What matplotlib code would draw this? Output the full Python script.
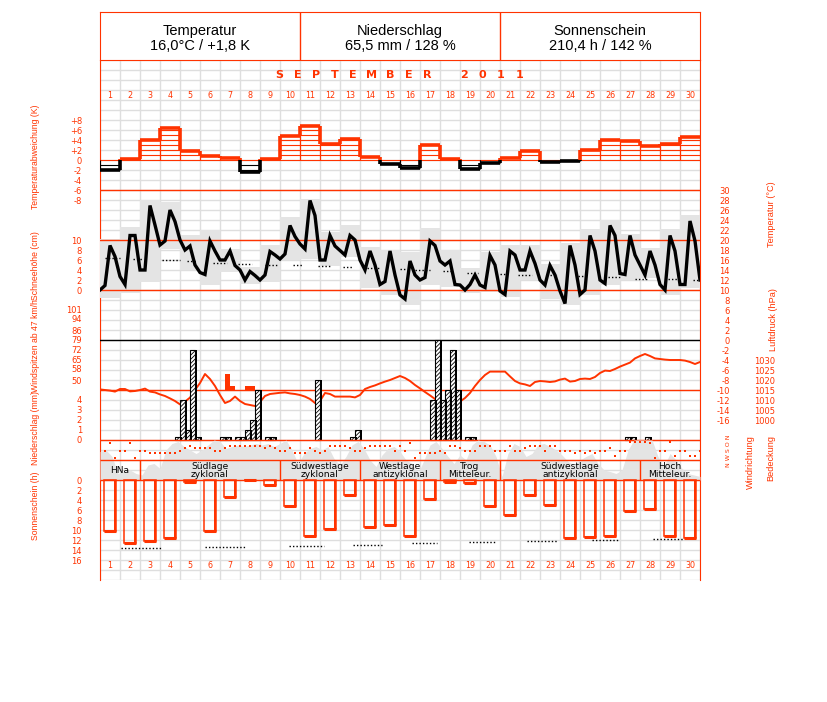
import numpy as np
import matplotlib
matplotlib.use("Agg")
import matplotlib.pyplot as plt
from matplotlib import font_manager

RED = "#ff3300"
GRID = "#dedede"
SHADE = "#e4e4e4"

names = {f.name for f in font_manager.fontManager.ttflist}
NARROW = "Liberation Sans Narrow" if "Liberation Sans Narrow" in names else "Liberation Sans"
plt.rcParams["font.family"] = ["DejaVu Sans"]
plt.rcParams["hatch.linewidth"] = 0.6

# ---------------- data ----------------
days = np.arange(1, 31)
header_titles = ["Temperatur", "Niederschlag", "Sonnenschein"]
header_values = ["16,0°C / +1,8 K", "65,5 mm / 128 %", "210,4 h / 142 %"]
month_title = "SEPTEMBER 2011"

# daily temperature deviation (K)
temp_dev = [-1.9, 0.3, 4.0, 6.5, 1.8, 0.9, 0.5, -2.3, 0.3, 4.8,
            6.9, 3.3, 4.2, 0.7, -0.7, -1.5, 3.0, 0.3, -1.7, -0.5,
            0.5, 1.9, -0.3, -0.2, 2.0, 4.0, 3.8, 2.8, 3.3, 4.7]

# 6-hourly temperature (°C), 1 Sep 00h .. 1 Oct 00h
temp_6h = [10.0, 10.9, 18.9, 16.7, 12.7, 11.1, 20.9, 20.9, 14.0, 14.0, 26.9, 23.0,
           19.0, 19.8, 26.0, 23.7, 20.0, 18.0, 18.8, 15.0, 13.5, 13.1, 19.8, 17.8,
           16.0, 16.0, 17.8, 14.9, 14.0, 12.0, 13.7, 12.9, 12.0, 13.0, 17.7, 17.0,
           16.2, 17.2, 22.9, 20.7, 19.2, 18.2, 27.9, 24.9, 16.0, 16.0, 20.9, 18.8,
           17.9, 17.0, 20.9, 20.0, 16.0, 14.0, 17.8, 15.0, 11.1, 11.7, 17.8, 13.0,
           9.0, 8.2, 15.8, 13.0, 12.0, 12.5, 19.8, 18.9, 15.8, 15.0, 15.8, 11.1,
           11.0, 10.0, 11.1, 13.0, 11.0, 10.5, 16.9, 15.0, 9.8, 9.1, 17.8, 17.0,
           14.0, 14.0, 17.8, 15.3, 12.0, 11.0, 14.9, 13.0, 9.8, 7.3, 18.9, 15.0,
           9.1, 10.0, 20.9, 17.8, 12.0, 11.3, 22.9, 20.9, 13.3, 13.1, 20.9, 17.0,
           15.0, 13.0, 17.8, 15.0, 11.1, 10.0, 20.9, 17.8, 11.1, 11.1, 23.8, 19.8,
           12.0]

# daily extreme range (grey boxes)
temp_min = [8.5, 9.5, 11.7, 18.3, 14.0, 11.0, 13.7, 11.3, 11.7, 16.0,
            16.3, 14.9, 16.7, 10.5, 9.1, 7.0, 11.0, 10.7, 9.5, 9.7,
            8.7, 12.0, 8.3, 7.0, 9.0, 11.0, 12.0, 12.5, 9.0, 10.5]
temp_max = [20.3, 22.7, 28.0, 27.7, 21.0, 22.0, 18.3, 14.7, 19.0, 24.7,
            28.3, 21.7, 23.0, 18.7, 18.0, 17.7, 22.5, 18.0, 14.5, 17.7,
            19.0, 19.0, 15.3, 19.5, 22.3, 24.0, 21.3, 18.5, 22.3, 25.1]

# climatological mean temperature (dotted pieces: from day, to day, °C)
clim_t_from = [0.75, 2.15, 3.6, 4.85, 6.15, 7.4, 8.75, 10.15, 11.4, 12.65, 13.85, 15.5,
               16.25, 17.65, 18.85, 20.5, 21.4, 23.0, 24.4, 25.9, 27.25, 28.9, 30.15]
clim_t_to = [1.5, 2.65, 4.5, 5.35, 6.85, 8.1, 9.35, 10.65, 12.0, 13.15, 14.5, 15.75,
             17.0, 18.1, 19.4, 20.85, 22.1, 23.35, 24.9, 26.5, 27.9, 29.5, 30.5]
clim_t = [16.5, 16.2, 16.0, 15.8, 15.5, 15.3, 15.1, 15.0, 14.8, 14.6, 14.4, 14.2,
          14.0, 13.8, 13.5, 13.3, 13.1, 13.0, 12.8, 12.6, 12.3, 12.2, 12.0]

# 6-hourly precipitation (day, quarter of day, mm)
prec_day = [4, 5, 5, 5, 5, 7, 7, 7, 8, 8, 8, 8, 9, 9, 11, 13, 13,
            17, 17, 18, 18, 18, 18, 19, 19, 27, 27, 28]
prec_slot = [3, 0, 1, 2, 3, 0, 1, 3, 0, 1, 2, 3, 1, 2, 3, 2, 3,
             2, 3, 0, 1, 2, 3, 1, 2, 1, 2, 1]
prec_mm = [0.3, 4.0, 1.0, 9.0, 0.3, 0.3, 0.3, 0.3, 0.3, 1.0, 2.0, 5.0, 0.3, 0.3, 6.0, 0.3, 1.0,
           4.0, 10.0, 4.0, 5.0, 9.0, 5.0, 0.3, 0.3, 0.3, 0.3, 0.3]

# wind gusts above threshold (day, quarter, km/h)
gust_day = [7, 7, 8, 8]
gust_slot = [1, 2, 1, 2]
gust_kmh = [54, 46, 46, 46]

# 6-hourly pressure (hPa)
pressure_6h = [
    1015.3, 1015.0, 1014.7, 1014.2, 1015.5, 1015.5, 1014.3, 1014.5, 1015.0, 1015.7,
    1014.2, 1013.8, 1012.8, 1012.0, 1010.8, 1009.5, 1007.8, 1009.2, 1011.2, 1015.0,
    1018.5, 1023.0, 1020.5, 1017.0, 1012.5, 1008.5, 1009.5, 1011.7, 1009.5, 1008.0,
    1007.5, 1007.0, 1009.0, 1012.0, 1013.0, 1013.3, 1013.6, 1013.8, 1013.3, 1013.0,
    1012.5, 1011.7, 1010.5, 1008.5, 1009.5, 1013.5, 1013.0, 1011.7, 1011.7, 1011.7,
    1011.7, 1011.3, 1012.5, 1015.5, 1016.5, 1017.3, 1018.3, 1019.2, 1020.0, 1021.0,
    1022.0, 1021.0, 1019.5, 1017.5, 1015.8, 1014.0, 1012.3, 1010.5, 1008.7, 1005.5,
    1004.0, 1006.5, 1009.2, 1011.0, 1013.5, 1017.0, 1020.0, 1022.5, 1024.2, 1024.2,
    1024.2, 1024.2, 1021.8, 1019.5, 1018.3, 1017.8, 1017.0, 1019.0, 1019.5, 1019.3,
    1019.0, 1019.3, 1020.2, 1020.7, 1019.2, 1019.5, 1020.5, 1020.7, 1020.5, 1021.5,
    1023.5, 1024.7, 1024.5, 1025.5, 1026.7, 1027.7, 1028.7, 1030.8, 1032.0, 1033.0,
    1032.0, 1030.8, 1030.5, 1030.2, 1030.0, 1030.0, 1030.0, 1029.7, 1029.0, 1028.0,
    1029.0]

# 6-hourly wind direction (degrees)
wind_dir_6h = [
    180, 180, 30, 300, 180, 180, 30, 300, 180, 180, 210, 210, 210, 210, 210,
    210, 180, 120, 90, 120, 120, 120, 120, 180, 180, 120, 90, 90, 90, 90,
    90, 90, 90, 120, 90, 120, 180, 180, 120, 210, 210, 210, 120, 180, 210,
    180, 90, 90, 90, 90, 120, 180, 180, 120, 90, 90, 90, 90, 90, 180, 90,
    180, 30, 300, 210, 210, 210, 210, 180, 210, 90, 90, 120, 180, 180, 180,
    90, 90, 90, 180, 180, 180, 90, 180, 180, 120, 90, 90, 90, 180, 90,
    90, 180, 180, 180, 210, 180, 210, 180, 210, 180, 180, 120, 270, 180, 180,
    20, 20, 20, 20, 30, 300, 180, 180, 20, 270, 180, 180, 270, 270, 180]

# cloud cover (octas), evenly spread over the month
cloud_octas = [5.7, 6.0, 4.7, 1.3, 1.7, 2.0, 1.3, 1.0, 3.0, 3.3, 2.3, 6.0, 7.3, 7.7, 6.7,
               6.0, 5.3, 6.0, 7.0, 8.0, 7.7, 6.3, 6.7, 7.0, 6.7, 7.0, 7.3, 7.0, 7.3, 6.7,
               7.3, 8.0, 6.0, 3.3, 5.3, 6.3, 6.7, 6.0, 6.7, 4.3, 3.0, 4.7, 7.0, 7.7, 6.3,
               4.0, 2.7, 5.0, 6.3, 6.7, 5.7, 4.0, 3.3, 1.3, 4.0, 7.0, 7.7, 6.3, 4.7, 3.3,
               5.0, 4.0, 7.0, 8.0, 7.7, 7.0, 4.7, 0.7, 5.3, 7.3, 6.7, 4.7, 5.3, 7.0, 7.3,
               6.7, 6.0, 5.0, 3.7, 3.0, 4.0, 4.7, 5.3, 3.3, 2.0, 1.7, 1.3, 2.0, 6.0, 8.0,
               8.0, 8.0, 8.0, 4.7, 2.7, 5.3, 4.0, 2.3, 1.3, 1.0, 0.7]

# Grosswetterlagen
wt_first = [1, 3, 10, 14, 18, 21, 28]
wt_last = [2, 9, 13, 17, 20, 27, 30]
wt_names = ["HNa", "Südlage\nzyklonal", "Südwestlage\nzyklonal", "Westlage\nantizyklonal",
            "Trog\nMitteleur.", "Südwestlage\nantizyklonal", "Hoch\nMitteleur."]

# sunshine (h)
sun_hours = [10.2, 12.5, 12.2, 11.5, 0.3, 10.1, 3.3, 0.0, 1.0, 5.1,
             11.2, 9.8, 3.0, 9.4, 9.0, 11.1, 3.7, 0.3, 0.5, 5.2,
             7.0, 3.0, 5.0, 11.5, 11.3, 11.2, 6.1, 5.8, 11.1, 11.5]
sun_clim_from = [1.55, 5.75, 9.95, 13.15, 16.1, 18.95, 21.85, 25.1, 28.15]
sun_clim_to = [3.6, 7.8, 11.7, 14.6, 17.35, 20.3, 23.35, 26.45, 29.65]
sun_clim = [13.5, 13.3, 13.1, 12.9, 12.6, 12.4, 12.2, 12.0, 11.8]

dev_ticks = [8, 6, 4, 2, 0, -2, -4, -6, -8]
dev_labels = ["+8", "+6", "+4", "+2", "0", "-2", "-4", "-6", "-8"]
snow_ticks = [0, 2, 4, 6, 8, 10]
gust_ticks = [50, 58, 65, 72, 79, 86, 94, 101]
prec_ticks = [0, 1, 2, 3, 4]
sun_ticks = [0, 2, 4, 6, 8, 10, 12, 14, 16]
temp_ticks = list(range(-16, 31, 2))
pres_ticks = [1000, 1005, 1010, 1015, 1020, 1025, 1030]

# ---------------- figure ----------------
W, H = 827, 702
fig = plt.figure(figsize=(W / 100, H / 100), dpi=100)


def frac(x0, y0, x1, y1):
    return [x0 / W, 1 - y1 / H, (x1 - x0) / W, (y1 - y0) / H]


PLOT = frac(100, 60, 700, 580)


def layer(v0, y0, s):
    # transparent axes over the plot area: value v0 sits on pixel row y0, s px per unit
    ax = fig.add_axes(PLOT)
    ax.set_xlim(0.5, 30.5)
    ax.set_ylim(v0 - (580 - y0) / s, v0 + (y0 - 60) / s)
    ax.patch.set_visible(False)
    for sp in ax.spines.values():
        sp.set_visible(False)
    ax.set_xticks([])
    ax.set_yticks([])
    ax.tick_params(length=0, labelsize=6, labelcolor=RED)
    return ax


def left_ticks(ax, ticks, labels=None):
    ax.set_yticks(ticks)
    ax.set_yticklabels(labels if labels else [str(t) for t in ticks])
    ax.tick_params(axis="y", pad=13)


def right_ticks(ax, ticks, pad_px):
    ax.yaxis.tick_right()
    ax.set_yticks(ticks)
    ax.set_yticklabels([str(t) for t in ticks], ha="right")
    ax.tick_params(axis="y", pad=pad_px * 0.72)


# background grid (pixel rows)
base = layer(580, 580, -1)
base.set_yticks(np.arange(60, 581, 10))
base.set_xticks(np.arange(0.5, 30.6, 1))
base.tick_params(labelleft=False, labelbottom=False)
base.grid(True, color=GRID, lw=1)
for side in ("left", "right"):
    base.spines[side].set_visible(True)
    base.spines[side].set_color(RED)

# header
hdr = fig.add_axes(frac(100, 12, 700, 60))
hdr.set_xlim(0, 3)
hdr.set_ylim(0, 1)
hdr.set_xticks([])
hdr.set_yticks([])
for sp in hdr.spines.values():
    sp.set_color(RED)
hdr.axvline(1, color=RED, lw=1)
hdr.axvline(2, color=RED, lw=1)
for i, (t, v) in enumerate(zip(header_titles, header_values)):
    hdr.text(i + 0.5, 0.44, t + "\n" + v, ha="center", va="center",
             fontsize=10.5, family=NARROW, linespacing=1.1)

# temperature deviation
ax_dev = layer(0, 160, 5)
left_ticks(ax_dev, dev_ticks, dev_labels)
ax_dev.axhline(0, color=RED, lw=0.8)
for d, v in zip(days, temp_dev):
    c = RED if v >= 0 else "black"
    ax_dev.vlines([d - 0.5, d + 0.5], 0, v, color=c, lw=0.8)
    levels = np.arange(1, int(abs(v)) + 1) * np.sign(v)
    ax_dev.hlines(levels, d - 0.5, d + 0.5, color=c, lw=0.8)
    ax_dev.hlines(v, d - 0.5, d + 0.5, color=c, lw=2.6)
for i in range(len(days) - 1):
    x = days[i] + 0.5
    lo, hi = sorted((temp_dev[i], temp_dev[i + 1]))
    if hi > 0:
        ax_dev.vlines(x, max(lo, 0), hi, color=RED, lw=2.6)
    if lo < 0:
        ax_dev.vlines(x, lo, min(hi, 0), color="black", lw=2.6)

# temperature
t6 = 0.5 + np.arange(len(temp_6h)) / 4
ax_t = layer(10, 290, 5)
right_ticks(ax_t, temp_ticks, 30)
ax_t.bar(days, np.subtract(temp_max, temp_min), bottom=temp_min, width=1,
         color=SHADE, lw=0, zorder=1)
for lvl in (10, 20, 30):
    ax_t.axhline(lvl, color=RED, lw=1, zorder=2)
ax_t.hlines(clim_t, clim_t_from, clim_t_to, color="black", lw=1,
            linestyles=(0, (1, 1.5)), zorder=3)
ax_t.plot(t6, temp_6h, color="black", lw=2.4, zorder=4, solid_joinstyle="miter")

ax_snow = layer(0, 290, 5)
left_ticks(ax_snow, snow_ticks)

# wind gusts
ax_g = layer(50, 380, 1 / 0.72)
left_ticks(ax_g, gust_ticks)
gx = np.array(gust_day) - 0.375 + 0.25 * np.array(gust_slot)
ax_g.bar(gx, np.array(gust_kmh) - 43, bottom=43, width=0.25, color=RED, lw=0)

# pressure
ax_pr = layer(1000, 420, 2)
right_ticks(ax_pr, pres_ticks, 75)
ax_pr.axhline(1015, color=RED, lw=1)
ax_pr.plot(0.5 + np.arange(len(pressure_6h)) / 4, pressure_6h, color=RED, lw=1.4)

# precipitation
ax_p = layer(0, 440, 10)
left_ticks(ax_p, prec_ticks)
ax_p.axhline(10, color="black", lw=1)
px = np.array(prec_day) - 0.375 + 0.25 * np.array(prec_slot)
ax_p.bar(px, prec_mm, width=0.25, facecolor="white", edgecolor="black",
         hatch="////////", lw=0.8, zorder=3)
ax_p.bar(px + 0.125 + 0.04, prec_mm, width=0.08, color="black", lw=0, zorder=3)
ax_p.axhline(0, color=RED, lw=1, zorder=4)

# cloud cover
ax_c = layer(0, 480, 5)
ax_c.fill_between(np.linspace(0.5, 30.5, len(cloud_octas)), 0, cloud_octas,
                  color=SHADE, lw=0)

# wind direction
ax_wd = layer(0, 441, -1 / 18)
ax_wd.plot(0.5 + np.arange(len(wind_dir_6h)) / 4, wind_dir_6h, "s",
           color=RED, ms=2.0, mew=0)

# sunshine
ax_s = layer(0, 480, -5)
left_ticks(ax_s, sun_ticks)
ax_s.bar(days, sun_hours, width=0.6, fill=False, edgecolor=RED, lw=1.1)
ax_s.bar(days + 0.3 - 0.06, sun_hours, width=0.12, color=RED, lw=0)
ax_s.hlines(sun_hours, days - 0.3, days + 0.3, color=RED, lw=2.2)
ax_s.hlines(sun_clim, sun_clim_from, sun_clim_to, color="black", lw=1,
            linestyles=(0, (1, 1.5)))

# overlay: weather types, day numbers, title
ov = layer(580, 580, -1)
ov.hlines([460, 480], 0.5, 30.5, color=RED, lw=1)
ov.vlines(np.array(wt_first[1:]) - 0.5, 460, 480, color=RED, lw=1)
for f, l, n in zip(wt_first, wt_last, wt_names):
    ov.text((f + l) / 2, 470.5, n, ha="center", va="center", fontsize=6.6,
            linespacing=0.95)
for d in days:
    ov.text(d, 96, str(d), ha="center", va="center", fontsize=5.8, color=RED)
    ov.text(d, 565, str(d), ha="center", va="center", fontsize=5.8, color=RED)
for i, ch in enumerate(month_title):
    ov.text(9.45 + 0.925 * i, 75.5, ch, ha="center", va="center", fontsize=8,
            fontweight="bold", color=RED)

# axis titles
left_titles = [("Temperaturabweichung (K)", 157), ("Schneehöhe (cm)", 266),
               ("Windspitzen ab 47 km/h", 346), ("Niederschlag (mm)", 428),
               ("Sonnenschein (h)", 506)]
for txt, yc in left_titles:
    fig.text(36 / W, 1 - yc / H, txt, rotation=90, ha="center", va="center",
             fontsize=6.2, color=RED, family=NARROW)
right_titles = [("Temperatur (°C)", 771, 214), ("Luftdruck (hPa)", 774, 320),
                ("Windrichtung", 750, 462), ("Bedeckung", 771, 458)]
for txt, xc, yc in right_titles:
    fig.text(xc / W, 1 - yc / H, txt, rotation=90, ha="center", va="center",
             fontsize=6.6, color=RED, family=NARROW)
fig.text(728 / W, 1 - 451 / H, "N W S O N", rotation=90, ha="center", va="center",
         fontsize=4.5, color=RED)

fig.savefig("out.png", dpi=100)
